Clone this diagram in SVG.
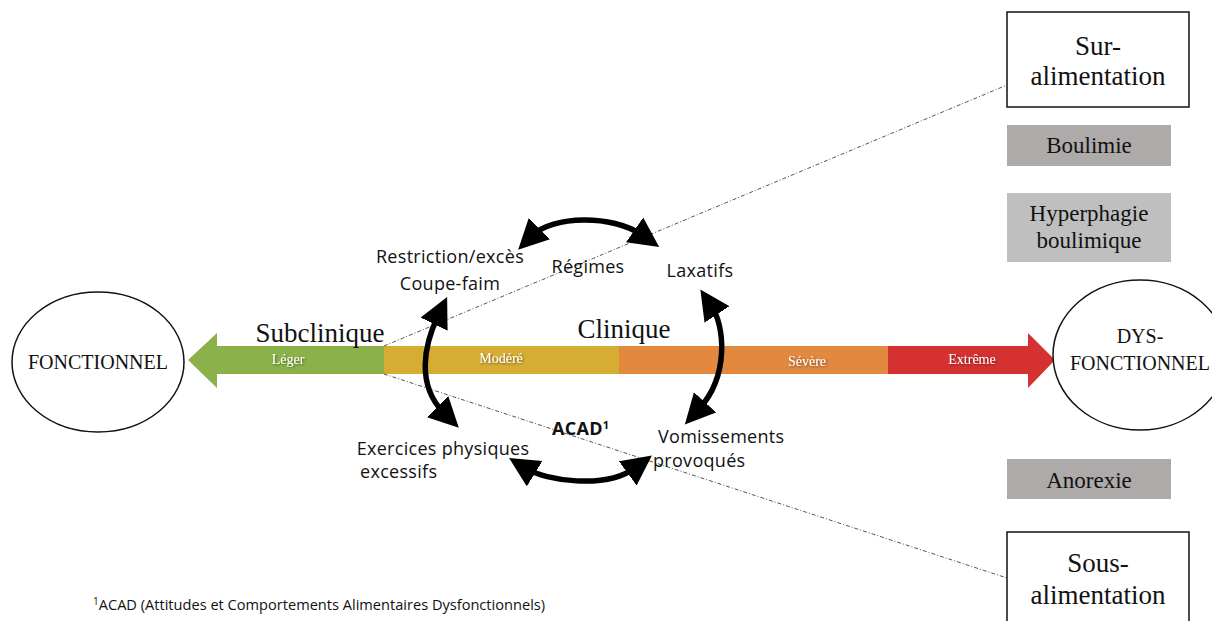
<svg xmlns="http://www.w3.org/2000/svg" width="1212" height="621" viewBox="0 0 1212 621">
<style>
.serif{font-family:"Liberation Serif","Times New Roman",serif;fill:#111}
.sans{font-family:"Open Sans","Noto Sans",sans-serif;fill:#111;font-size:18px;letter-spacing:0.3px}
.ell{fill:#fff;stroke:#111;stroke-width:1.5}
.box{fill:#fff;stroke:#111;stroke-width:1.5}
.grey1{fill:#AEAAAA}
.grey2{fill:#BFBFBF}
.bartxt{font-family:"Liberation Serif","Times New Roman",serif;fill:#fff;font-size:14px;text-anchor:middle}
.dot{fill:none;stroke:#555;stroke-width:1;stroke-dasharray:4 2 1 2}
.cyc{fill:none;stroke:#000;stroke-width:5.5;marker-start:url(#ah);marker-end:url(#ah)}
</style>
<defs>
<marker id="ah" markerUnits="userSpaceOnUse" markerWidth="32" markerHeight="32" refX="9" refY="15" orient="auto-start-reverse">
<path d="M0,0 L30,15 L0,30 z" fill="#000"/>
</marker>
<filter id="sh" x="-20%" y="-50%" width="140%" height="200%">
<feDropShadow dx="1" dy="1" stdDeviation="0.8" flood-color="#000" flood-opacity="0.5"/>
</filter>
</defs>
<rect width="1212" height="621" fill="#fff"/>

<g id="scale">
<polygon points="188,360 217,333 217,346 384,346 384,374 217,374 217,388" fill="#8BB24A"/>
<rect x="384" y="346" width="235" height="28" fill="#D6AD33"/>
<rect x="619" y="346" width="269" height="28" fill="#E2883F"/>
<polygon points="888,346 1028,346 1028,333 1055,360 1028,388 1028,374 888,374" fill="#D63131"/>
<g filter="url(#sh)">
<text class="bartxt" x="288" y="364">Léger</text>
<text class="bartxt" x="501" y="363">Modéré</text>
<text class="bartxt" x="807" y="366">Sévère</text>
<text class="bartxt" x="972" y="364">Extrême</text>
</g>
<text class="serif" x="320" y="342" font-size="27" text-anchor="middle">Subclinique</text>
<text class="serif" x="624" y="338" font-size="27" text-anchor="middle">Clinique</text>
</g>

<g id="connectors">
<line class="dot" x1="384" y1="346" x2="1007" y2="85"/>
<line class="dot" x1="384" y1="374" x2="1007" y2="578"/>
<path class="cyc" d="M533,235 C552,216 612,214 642,235"/>
<path class="cyc" d="M438,316 C424,345 416,385 444,413"/>
<path class="cyc" d="M712,307 C724,325 730,375 699,409"/>
<path class="cyc" d="M527,469 C545,480 605,490 635,468"/>
</g>

<g id="fonctionnel">
<ellipse class="ell" cx="98" cy="362" rx="86" ry="70"/>
<text class="serif" x="98" y="369" font-size="20" text-anchor="middle">FONCTIONNEL</text>
</g>
<g id="dysfonctionnel">
<ellipse class="ell" cx="1140" cy="355" rx="87" ry="75"/>
<text class="serif" x="1140" y="343" font-size="20" text-anchor="middle">DYS-</text>
<text class="serif" x="1140" y="370" font-size="20" text-anchor="middle">FONCTIONNEL</text>
</g>

<g id="sur-alimentation">
<rect class="box" x="1007" y="12" width="182" height="95"/>
<text class="serif" x="1098" y="55" font-size="27" text-anchor="middle">Sur-</text>
<text class="serif" x="1098" y="85" font-size="27" text-anchor="middle">alimentation</text>
</g>
<g id="boulimie">
<rect class="grey1" x="1007" y="125" width="164" height="41"/>
<text class="serif" x="1089" y="153" font-size="23" text-anchor="middle">Boulimie</text>
</g>
<g id="hyperphagie">
<rect class="grey2" x="1007" y="193" width="164" height="69"/>
<text class="serif" x="1089" y="221" font-size="23" text-anchor="middle">Hyperphagie</text>
<text class="serif" x="1089" y="248" font-size="23" text-anchor="middle">boulimique</text>
</g>
<g id="anorexie">
<rect class="grey1" x="1007" y="459" width="164" height="40"/>
<text class="serif" x="1089" y="488" font-size="23" text-anchor="middle">Anorexie</text>
</g>
<g id="sous-alimentation">
<rect class="box" x="1007" y="532" width="182" height="100"/>
<text class="serif" x="1098" y="572" font-size="27" text-anchor="middle">Sous-</text>
<text class="serif" x="1098" y="604" font-size="27" text-anchor="middle">alimentation</text>
</g>

<g id="restriction">
<text class="sans" x="450" y="263" text-anchor="middle">Restriction/excès</text>
<text class="sans" x="450" y="290" text-anchor="middle">Coupe-faim</text>
</g>
<g id="regimes">
<text class="sans" x="588" y="273" text-anchor="middle">Régimes</text>
</g>
<g id="laxatifs">
<text class="sans" x="700" y="277" text-anchor="middle">Laxatifs</text>
</g>
<g id="acad">
<text class="sans" x="552" y="435" font-weight="bold">ACAD<tspan font-size="11" dy="-6">1</tspan></text>
</g>
<g id="exercices">
<text class="sans" x="443" y="455" text-anchor="middle">Exercices physiques</text>
<text class="sans" x="360" y="478">excessifs</text>
</g>
<g id="vomissements">
<text class="sans" x="658" y="443">Vomissements</text>
<text class="sans" x="653" y="467">provoqués</text>
</g>
<g id="footnote">
<text class="sans" x="93" y="610" style="font-size:14.6px;letter-spacing:0"><tspan font-size="10" dy="-5">1</tspan><tspan dy="5">ACAD (Attitudes et Comportements Alimentaires Dysfonctionnels)</tspan></text>
</g>
</svg>
